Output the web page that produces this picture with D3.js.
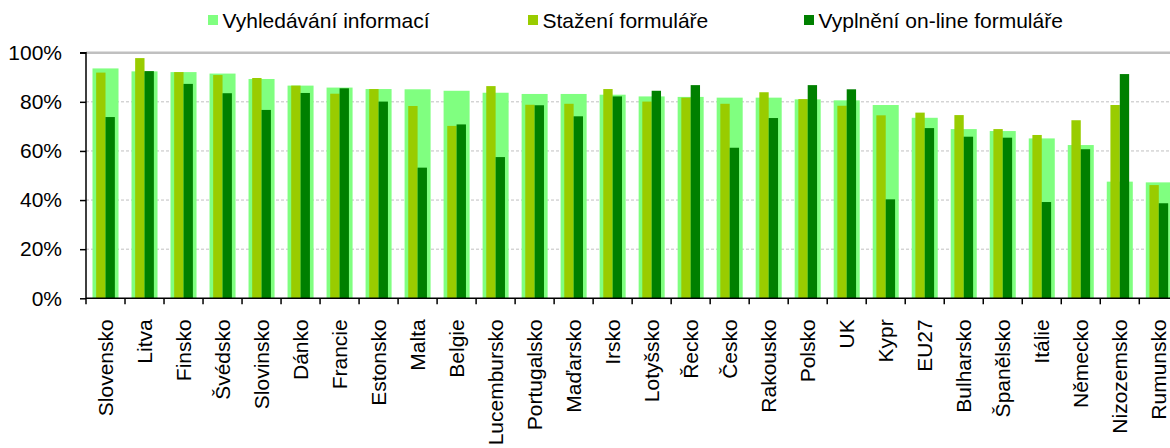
<!DOCTYPE html>
<html><head><meta charset="utf-8">
<script src="https://cdn.jsdelivr.net/npm/d3@7/dist/d3.min.js"></script>
<style>
html,body{margin:0;padding:0;background:#fff;}
svg{display:block;font-family:"Liberation Sans",Arial,sans-serif;}
</style></head>
<body>
<svg id="chart" width="1170" height="448"></svg>
<script>
const categories = ["Slovensko","Litva","Finsko","Švédsko","Slovinsko","Dánko","Francie","Estonsko","Malta","Belgie","Lucembursko","Portugalsko","Maďarsko","Irsko","Lotyšsko","Řecko","Česko","Rakousko","Polsko","UK","Kypr","EU27","Bulharsko","Španělsko","Itálie","Německo","Nizozemsko","Rumunsko"];
const seriesNames = ["Vyhledávání informací","Stažení formuláře","Vyplnění on-line formuláře"];
const vyhledavani = [93.6,92.4,92.1,91.5,89.3,86.6,85.8,85.2,85.1,84.5,83.7,83.2,83.2,82.9,82.2,82.0,81.7,81.7,81.0,80.6,78.7,73.5,68.9,68.1,65.1,62.4,47.5,47.2];
const stazeni = [91.9,97.8,92.1,90.9,89.7,86.6,83.3,85.2,78.3,70.2,86.4,78.8,79.2,85.2,80.1,81.7,79.2,83.9,81.1,78.4,74.5,75.6,74.6,68.9,66.5,72.5,78.7,46.1];
const vyplneni = [73.8,92.5,87.3,83.5,76.7,83.6,85.5,80.1,53.2,70.8,57.5,78.6,74.1,82.2,84.5,86.8,61.3,73.4,86.8,85.1,40.3,69.3,65.8,65.4,39.2,60.7,91.3,38.7];
const yTicks = [0,20,40,60,80,100];

const colors = ["#80FF80","#99CC00","#008000"];
const svg = d3.select("#chart");
const mLeft = 86, mRight = 1178.3, mTop = 52.7, mBottom = 298.3;

const x = d3.scaleBand().domain(categories).range([mLeft, mRight]).paddingInner(0).paddingOuter(0);
const y = d3.scaleLinear().domain([0,100]).range([mBottom, mTop]);
const bw = x.bandwidth();

// gridlines
svg.append("g").selectAll("line").data(yTicks.filter(t => t > 0 && t < 100)).join("line")
  .attr("x1", mLeft).attr("x2", 1170).attr("y1", d => y(d)).attr("y2", d => y(d))
  .attr("stroke", "#c0c0c0").attr("stroke-width", 1).attr("stroke-dasharray", "3,2");
svg.append("line").attr("x1", mLeft).attr("x2", 1170).attr("y1", y(100)).attr("y2", y(100))
  .attr("stroke", "#c0c0c0").attr("stroke-width", 2.5);

// bars
const wide = bw * 0.667, narrow = bw * 0.24;
svg.append("g").selectAll("rect").data(categories).join("rect")
  .attr("x", d => x(d) + bw/2 - wide/2).attr("width", wide)
  .attr("y", (d,i) => y(vyhledavani[i])).attr("height", (d,i) => y(0) - y(vyhledavani[i]))
  .attr("fill", colors[0]);
svg.append("g").selectAll("rect").data(categories).join("rect")
  .attr("x", d => x(d) + bw/2 - narrow).attr("width", narrow)
  .attr("y", (d,i) => y(stazeni[i])).attr("height", (d,i) => y(0) - y(stazeni[i]))
  .attr("fill", colors[1]);
svg.append("g").selectAll("rect").data(categories).join("rect")
  .attr("x", d => x(d) + bw/2).attr("width", narrow)
  .attr("y", (d,i) => y(vyplneni[i])).attr("height", (d,i) => y(0) - y(vyplneni[i]))
  .attr("fill", colors[2]);

// y axis
const yAxis = svg.append("g").attr("transform", `translate(${mLeft},0)`)
  .call(d3.axisLeft(y).tickValues(yTicks).tickFormat(d => d + "%").tickSize(6).tickPadding(18));
yAxis.select(".domain").attr("stroke", "#000").attr("stroke-width", 1.5).attr("d", `M-6,${y(100)}H0V${y(0)}`);
yAxis.selectAll(".tick line").attr("stroke", "#000").attr("stroke-width", 1.5);
yAxis.selectAll("text").attr("font-size", 21).attr("fill", "#000").attr("font-family", "'Liberation Sans', Arial, sans-serif");

// x axis
const xAxis = svg.append("g").attr("transform", `translate(0,${mBottom})`);
xAxis.append("line").attr("x1", mLeft).attr("x2", 1170).attr("y1", 0).attr("y2", 0).attr("stroke", "#000").attr("stroke-width", 1.5);
xAxis.selectAll("line.tk").data(categories).join("line").attr("class","tk")
  .attr("x1", d => x(d)).attr("x2", d => x(d)).attr("y1", 0).attr("y2", 6)
  .attr("stroke", "#000").attr("stroke-width", 1.5);
xAxis.selectAll("text").data(categories).join("text")
  .attr("transform", d => `translate(${x(d) + bw/2},21) rotate(-90)`)
  .attr("text-anchor", "end").attr("dy", "0.35em")
  .attr("font-size", 21).attr("fill", "#000")
  .text(d => d);

// legend
const legendX = [208, 528, 804];
const lg = svg.append("g");
seriesNames.forEach((n, i) => {
  lg.append("rect").attr("x", legendX[i]).attr("y", 15).attr("width", 10).attr("height", 10).attr("fill", colors[i]);
  lg.append("text").attr("x", legendX[i] + 14.5).attr("y", 27.5).attr("font-size", 21).attr("fill", "#000").text(n);
});
</script>
</body></html>
